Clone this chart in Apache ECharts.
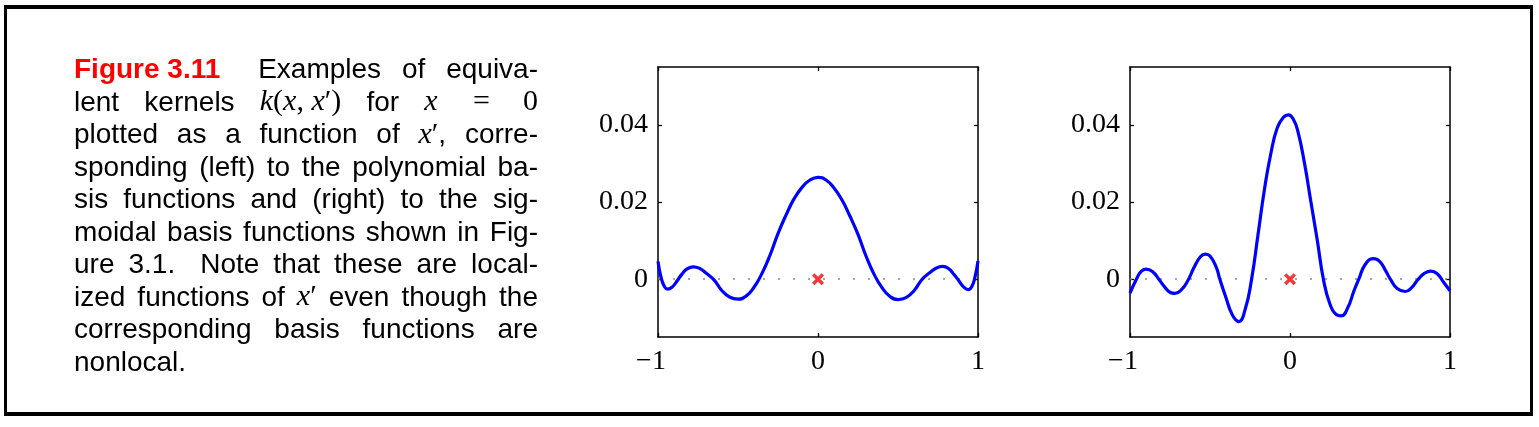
<!DOCTYPE html>
<html>
<head>
<meta charset="utf-8">
<script src="https://cdn.jsdelivr.net/npm/echarts@6/dist/echarts.min.js"></script>
<style>
  html, body { margin: 0; padding: 0; background: #ffffff; }
  #chart { width: 1539px; height: 427px; }
</style>
</head>
<body>
<div id="chart"></div>
<script>
// ---------- data ----------
const xTicks = [-1, 0, 1];
const yTicks = [0, 0.02, 0.04];

// left panel: polynomial basis equivalent kernel
const polyX = [-1, -0.98, -0.96, -0.94, -0.91, -0.88, -0.85, -0.82, -0.78, -0.74, -0.70, -0.65, -0.60, -0.55, -0.50, -0.45, -0.40, -0.35, -0.30, -0.25, -0.20, -0.15, -0.10, -0.05, 0,
  0.05, 0.10, 0.15, 0.20, 0.25, 0.30, 0.35, 0.40, 0.45, 0.50, 0.55, 0.60, 0.65, 0.70, 0.74, 0.78, 0.82, 0.85, 0.88, 0.91, 0.94, 0.96, 0.98, 1.0];
const polyY = [0.0046, 0.0003, -0.0019, -0.0026, -0.0020, -0.0004, 0.0013, 0.0026, 0.0032, 0.0028, 0.0016, -0.0002, -0.0030, -0.0047, -0.0052, -0.0044, -0.0021, 0.0015, 0.0062, 0.0118, 0.0166, 0.0208, 0.0238, 0.0257, 0.0264,
  0.0257, 0.0236, 0.0205, 0.0163, 0.0116, 0.0060, 0.0013, -0.0022, -0.0045, -0.0053, -0.0048, -0.0030, -0.0001, 0.0017, 0.0029, 0.0033, 0.0026, 0.0012, -0.0004, -0.0020, -0.0027, -0.0020, 0.0003, 0.0047];

// right panel: sigmoidal basis equivalent kernel
const sigX = [-1, -0.96, -0.93, -0.90, -0.86, -0.82, -0.78, -0.75, -0.72, -0.68, -0.64, -0.60, -0.56, -0.53, -0.50, -0.46, -0.44, -0.40, -0.36, -0.32, -0.28, -0.24, -0.20, -0.16, -0.12, -0.08, -0.04, -0.01,
  0.02, 0.05, 0.09, 0.13, 0.17, 0.21, 0.25, 0.29, 0.32, 0.36, 0.40, 0.43, 0.47, 0.52, 0.56, 0.60, 0.63, 0.67, 0.72, 0.76, 0.80, 0.84, 0.88, 0.92, 0.96, 1.0];
const sigY = [-0.0036, 0.0000, 0.0020, 0.0026, 0.0020, 0.0000, -0.0022, -0.0034, -0.0037, -0.0028, -0.0005, 0.0030, 0.0058, 0.0065, 0.0060, 0.0030, 0.0002, -0.0048, -0.0093, -0.0110, -0.0078, 0.0000, 0.0115, 0.0232, 0.0325, 0.0392, 0.0420, 0.0426,
  0.0415, 0.0382, 0.0302, 0.0202, 0.0102, -0.0003, -0.0065, -0.0092, -0.0095, -0.0075, -0.0030, 0.0000, 0.0038, 0.0053, 0.0046, 0.0020, -0.0002, -0.0024, -0.0032, -0.0022, -0.0001, 0.0015, 0.0021, 0.0014, -0.0008, -0.0030];

// the red cross at x = 0
const crossPoint = [0, 0];

// caption words: [text, style] segments; s = sans, b = bold red, mi = math italic, mr = math roman
const captionLines = [
  { tokens: [[['Figure 3.11', 'b']], [['Examples', 's']], [['of', 's']], [['equiva-', 's']]], extra: [17, 0, 0] },
  { tokens: [[['lent', 's']], [['kernels', 's']], [['k', 'mi'], ['(', 'mr'], ['x', 'mi'], [', ', 'mr'], ['x', 'mi'], ['\u2032)', 'mr']], [['for', 's']], [['x', 'mi']], [['=', 'mr']], [['0', 'mr']]], extra: [0, 0, 0, 0, 10, 8] },
  { tokens: [[['plotted', 's']], [['as', 's']], [['a', 's']], [['function', 's']], [['of', 's']], [['x', 'mi'], ['\u2032', 'mr'], [',', 's']], [['corre-', 's']]] },
  { tokens: [[['sponding', 's']], [['(left)', 's']], [['to', 's']], [['the', 's']], [['polynomial', 's']], [['ba-', 's']]] },
  { tokens: [[['sis', 's']], [['functions', 's']], [['and', 's']], [['(right)', 's']], [['to', 's']], [['the', 's']], [['sig-', 's']]] },
  { tokens: [[['moidal', 's']], [['basis', 's']], [['functions', 's']], [['shown', 's']], [['in', 's']], [['Fig-', 's']]] },
  { tokens: [[['ure', 's']], [['3.1.', 's']], [['Note', 's']], [['that', 's']], [['these', 's']], [['are', 's']], [['local-', 's']]], extra: [0, 11, 0, 0, 0, 0] },
  { tokens: [[['ized', 's']], [['functions', 's']], [['of', 's']], [['x', 'mi'], ['\u2032', 'mr']], [['even', 's']], [['though', 's']], [['the', 's']]] },
  { tokens: [[['corresponding', 's']], [['basis', 's']], [['functions', 's']], [['are', 's']]] },
  { tokens: [[['nonlocal.', 's']]], last: true }
];

// ---------- layout / style ----------
const fontDefs = {
  s:  { size: 28, fontFamily: 'Liberation Sans', fontWeight: 'normal', fontStyle: 'normal', fill: '#000000' },
  b:  { size: 28, fontFamily: 'Liberation Sans', fontWeight: 'bold', fontStyle: 'normal', fill: '#ff0000' },
  mi: { size: 30, fontFamily: 'Liberation Serif', fontWeight: 'normal', fontStyle: 'italic', fill: '#000000' },
  mr: { size: 30, fontFamily: 'Liberation Serif', fontWeight: 'normal', fontStyle: 'normal', fill: '#000000' }
};
const mctx = document.createElement('canvas').getContext('2d');
function measure(text, key) {
  const f = fontDefs[key];
  mctx.font = f.fontStyle + ' ' + f.fontWeight + ' ' + f.size + 'px "' + f.fontFamily + '"';
  return mctx.measureText(text).width;
}

const capX0 = 74, capX1 = 538, base0 = 79.3, lineStep = 32.5;
const graphics = [];
// outer frame
graphics.push({ type: 'rect', shape: { x: 4, y: 5, width: 1529, height: 4 }, style: { fill: '#000' } });
graphics.push({ type: 'rect', shape: { x: 4, y: 412, width: 1529, height: 4 }, style: { fill: '#000' } });
graphics.push({ type: 'rect', shape: { x: 4, y: 5, width: 3, height: 411 }, style: { fill: '#000' } });
graphics.push({ type: 'rect', shape: { x: 1530, y: 5, width: 3, height: 411 }, style: { fill: '#000' } });

captionLines.forEach((line, li) => {
  const widths = line.tokens.map(tok => tok.reduce((a, seg) => a + measure(seg[0], seg[1]), 0));
  const total = widths.reduce((a, b) => a + b, 0);
  const nGaps = line.tokens.length - 1;
  const extra = line.extra || new Array(Math.max(nGaps, 0)).fill(0);
  const extraSum = extra.reduce((a, b) => a + b, 0);
  const gap = line.last ? measure(' ', 's') : (capX1 - capX0 - total - extraSum) / nGaps;
  const baseline = base0 + li * lineStep;
  let cx = capX0;
  line.tokens.forEach((tok, ti) => {
    tok.forEach(seg => {
      const f = fontDefs[seg[1]];
      graphics.push({
        type: 'text', x: cx, y: baseline - 0.31 * f.size, silent: true,
        style: {
          text: seg[0], fontSize: f.size, fontFamily: f.fontFamily, fontWeight: f.fontWeight,
          fontStyle: f.fontStyle, fill: f.fill, align: 'left', verticalAlign: 'middle'
        }
      });
      cx += measure(seg[0], seg[1]);
    });
    if (ti < nGaps) cx += gap + (extra[ti] || 0);
  });
});

const zip = (xs, ys) => xs.map((x, i) => [x, ys[i]]);
const crossPath = 'path://M0,2 L2,0 L5,3 L8,0 L10,2 L7,5 L10,8 L8,10 L5,7 L2,10 L0,8 L3,5 Z';

const grids = [
  { left: 658, top: 67, width: 320, height: 270 },
  { left: 1130, top: 67, width: 320, height: 270 }
];
const axisLineStyle = { color: '#000', width: 1.5 };
const tickStyle = { color: '#000', width: 1.3 };
const LF = 28;
const labelFont = { fontFamily: 'Liberation Serif', fontSize: LF, color: '#000' };
const minusW = 14;

const xAxes = [], yAxes = [];
grids.forEach((g, gi) => {
  xAxes.push({
    gridIndex: gi, type: 'value', min: -1, max: 1, interval: 1, position: 'bottom',
    axisLine: { show: true, onZero: false, lineStyle: axisLineStyle },
    axisTick: { show: true, inside: true, length: 4, lineStyle: tickStyle },
    axisLabel: Object.assign({
      margin: 11,
      formatter: v => v < 0 ? '{neg|\u2212' + Math.abs(v) + '}' : String(v),
      rich: { neg: { fontFamily: 'Liberation Serif', fontSize: LF, color: '#000', padding: [0, minusW, 0, 0] } }
    }, labelFont),
    splitLine: { show: false }
  });
  xAxes.push({
    gridIndex: gi, type: 'value', min: -1, max: 1, interval: 1, position: 'top',
    axisLine: { show: true, onZero: false, lineStyle: axisLineStyle },
    axisTick: { show: true, inside: true, length: 4, lineStyle: tickStyle },
    axisLabel: { show: false }, splitLine: { show: false }
  });
  yAxes.push({
    gridIndex: gi, type: 'value', min: -0.015, max: 0.055, position: 'left',
    axisLine: { show: true, onZero: false, lineStyle: axisLineStyle },
    axisTick: { show: true, inside: true, length: 4, lineStyle: tickStyle, customValues: yTicks },
    axisLabel: Object.assign({ margin: 10, customValues: yTicks }, labelFont),
    splitLine: { show: false }
  });
  yAxes.push({
    gridIndex: gi, type: 'value', min: -0.015, max: 0.055, position: 'right',
    axisLine: { show: true, onZero: false, lineStyle: axisLineStyle },
    axisTick: { show: true, inside: true, length: 4, lineStyle: tickStyle, customValues: yTicks },
    axisLabel: { show: false }, splitLine: { show: false }
  });
});

function kernelSeries(gi, data) {
  return {
    type: 'line', xAxisIndex: gi * 2, yAxisIndex: gi * 2, data: data,
    smooth: true, showSymbol: false, symbol: 'none', silent: true, z: 3,
    lineStyle: { color: '#0000ff', width: 3.2 },
    markLine: {
      silent: true, symbol: 'none', label: { show: false }, z: 2,
      lineStyle: { color: '#8a8a8a', type: [2, 13], width: 1.6 },
      data: [{ yAxis: 0 }]
    }
  };
}
function crossSeries(gi) {
  return {
    type: 'scatter', xAxisIndex: gi * 2, yAxisIndex: gi * 2, data: [crossPoint],
    symbol: crossPath, symbolSize: 12, itemStyle: { color: '#ff0000' }, z: 5, silent: true
  };
}

const chart = echarts.init(document.getElementById('chart'), null, { renderer: 'canvas' });
chart.setOption({
  animation: false,
  backgroundColor: '#ffffff',
  grid: grids,
  xAxis: xAxes,
  yAxis: yAxes,
  series: [
    kernelSeries(0, zip(polyX, polyY)), crossSeries(0),
    kernelSeries(1, zip(sigX, sigY)), crossSeries(1)
  ],
  graphic: graphics
});
</script>
</body>
</html>
